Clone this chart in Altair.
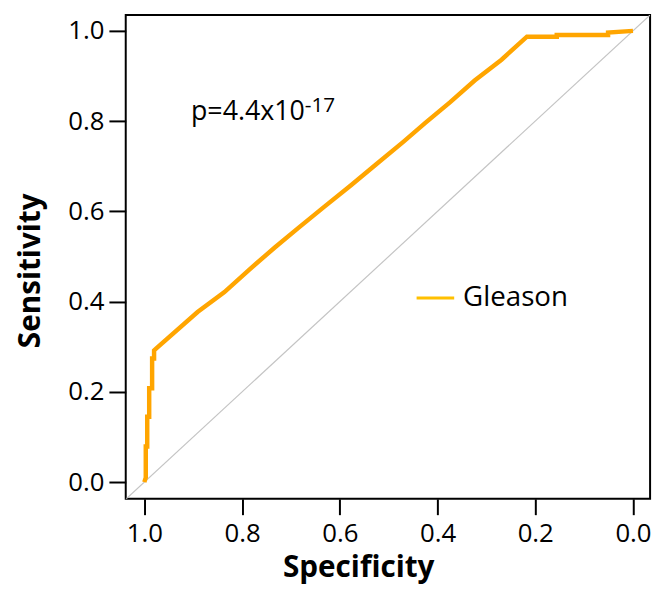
import altair as alt
import pandas as pd

# ROC curve (Gleason)
specificity = [1.0, 0.997, 0.997, 0.994, 0.994, 0.990, 0.990, 0.984, 0.984, 0.980, 0.980,
               0.976, 0.891, 0.836, 0.785, 0.733, 0.684, 0.632, 0.577, 0.526, 0.470,
               0.425, 0.374, 0.324, 0.269, 0.217, 0.156, 0.156, 0.051, 0.051, 0.0]
sensitivity = [0.0, 0.01, 0.079, 0.079, 0.145, 0.145, 0.208, 0.208, 0.274, 0.274, 0.292,
               0.296, 0.377, 0.421, 0.471, 0.520, 0.564, 0.610, 0.658, 0.704, 0.754,
               0.796, 0.842, 0.890, 0.936, 0.987, 0.987, 0.991, 0.991, 0.996, 1.0]

ref_spec = [1.04, -0.04]
ref_sens = [-0.04, 1.04]

tick_values = [0.0, 0.2, 0.4, 0.6, 0.8, 1.0]
series_name = "Gleason"
p_main = "p=4.4x10"
p_exp = "-17"

FONT = "Open Sans"
CURVE = "#FFA500"
LEGEND_LINE = "#FFC000"

xdom = [1.038, -0.035]
ydom = [-0.037, 1.035]

curve_df = pd.DataFrame({"spec": specificity, "sens": sensitivity, "i": range(len(specificity))})
ref_df = pd.DataFrame({"spec": ref_spec, "sens": ref_sens})

xscale = alt.Scale(domain=xdom, nice=False, zero=False)
yscale = alt.Scale(domain=ydom, nice=False, zero=False)

xaxis = alt.Axis(title="Specificity", values=tick_values, format=".1f", grid=False,
                 domain=False, tickColor="black", tickWidth=2, tickSize=16,
                 labelFont=FONT, labelFontSize=26, labelColor="black", labelPadding=6,
                 titleFont=FONT, titleFontSize=30, titleFontWeight="bold",
                 titleColor="black", titleBaseline="alphabetic", titleAlign="center",
                 titleX=235, titleY=79)
yaxis = alt.Axis(title="Sensitivity", values=tick_values, format=".1f", grid=False,
                 domain=False, tickColor="black", tickWidth=2, tickSize=17,
                 labelFont=FONT, labelFontSize=26, labelColor="black", labelPadding=5,
                 titleFont=FONT, titleFontSize=30, titleFontWeight="bold",
                 titleColor="black", titleBaseline="alphabetic", titleAlign="center",
                 titleAngle=270, titleX=-87, titleY=258)

ref_line = alt.Chart(ref_df).mark_line(color="#C4C4C4", strokeWidth=1.2, clip=True).encode(
    x=alt.X("spec:Q", scale=xscale, axis=xaxis),
    y=alt.Y("sens:Q", scale=yscale, axis=yaxis),
)

curve = alt.Chart(curve_df).mark_line(color=CURVE, strokeWidth=4.5, clip=True,
                                      strokeJoin="miter").encode(
    x=alt.X("spec:Q", scale=xscale),
    y=alt.Y("sens:Q", scale=yscale),
    order="i:Q",
)

one = pd.DataFrame({"k": [0]})

p_text = alt.Chart(one).mark_text(text=p_main, font=FONT, fontSize=27, align="left",
                                  baseline="alphabetic", color="black").encode(
    x=alt.value(66), y=alt.value(106))
p_sup = alt.Chart(one).mark_text(text=p_exp, font=FONT, fontSize=21, align="left",
                                 baseline="alphabetic", color="black").encode(
    x=alt.value(181), y=alt.value(98))

leg_line = alt.Chart(one).mark_rule(color=LEGEND_LINE, strokeWidth=3).encode(
    x=alt.value(294), x2=alt.value(332), y=alt.value(286))
leg_text = alt.Chart(one).mark_text(text=series_name, font=FONT, fontSize=28, align="left",
                                    baseline="middle", color="black").encode(
    x=alt.value(341), y=alt.value(286))

chart = alt.layer(ref_line, curve, p_text, p_sup, leg_line, leg_text).properties(
    width=530, height=489,
    autosize=alt.AutoSizeParams(type="none"),
    padding={"left": 119, "top": 4, "right": 8, "bottom": 88},
    background="white",
).configure_view(stroke="black", strokeWidth=2)

chart.save("out.html", embed_options={"renderer": "svg", "actions": False})
